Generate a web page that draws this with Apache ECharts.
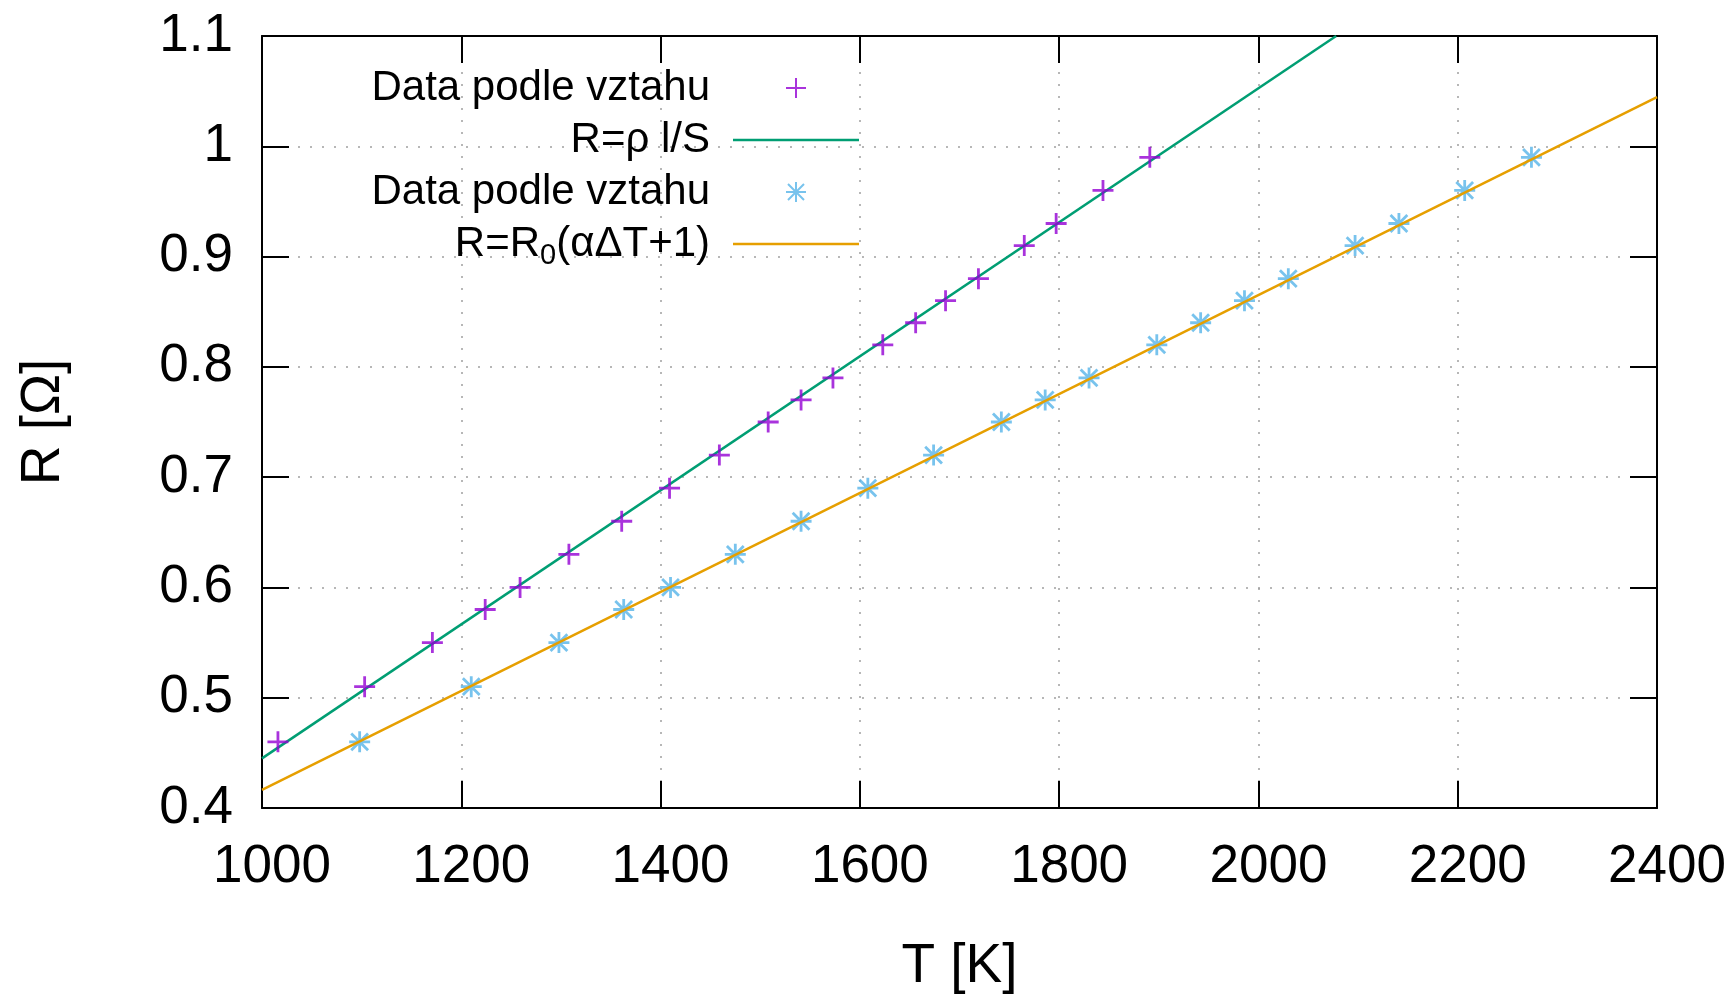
<!DOCTYPE html>
<html>
<head>
<meta charset="utf-8">
<script src="https://cdn.jsdelivr.net/npm/echarts@6/dist/echarts.min.js"></script>
<style>
  html, body { margin: 0; padding: 0; background: #fff; }
  #chart { width: 1729px; height: 1000px; }
</style>
</head>
<body>
<div id="chart"></div>
<script>
// data podle vztahu R = rho l / S
var rhoT = [1016, 1103, 1171, 1224, 1259, 1308, 1361, 1409, 1459, 1508, 1541, 1573, 1623, 1656, 1686, 1719, 1765, 1797, 1844, 1891];
var rhoR = [0.46, 0.51, 0.55, 0.58, 0.60, 0.63, 0.66, 0.69, 0.72, 0.75, 0.77, 0.79, 0.82, 0.84, 0.86, 0.88, 0.91, 0.93, 0.96, 0.99];
// data podle vztahu R = R0(a dT + 1)
var r0T = [1098, 1210, 1298, 1363, 1410, 1475, 1541, 1608, 1674, 1742, 1786, 1830, 1898, 1942, 1986, 2030, 2097, 2141, 2207, 2274];
var r0R = [0.46, 0.51, 0.55, 0.58, 0.60, 0.63, 0.66, 0.69, 0.72, 0.75, 0.77, 0.79, 0.82, 0.84, 0.86, 0.88, 0.91, 0.93, 0.96, 0.99];
// fitted lines (end points)
var rhoFitT = [1000, 2078];
var rhoFitR = [0.445, 1.1];
var r0FitT = [1000, 2400];
var r0FitR = [0.4165, 1.0446];

var legendLabels = {
  data1: 'Data podle vztahu',
  fit1: 'R=ρ l/S',
  data2: 'Data podle vztahu',
  fit2: '{a|R=R}{s|0}{a|(αΔT+1)}'
};

function pairs(xs, ys) {
  var out = [];
  for (var i = 0; i < xs.length; i++) {
    out.push([xs[i], ys[i]]);
  }
  return out;
}

var font = "'Liberation Sans', Arial, sans-serif";
var plusPath = 'path://M0,-10L0,10M-10,0L10,0';
var starPath = 'path://M0,-10L0,10M-10,0L10,0M-8,-8L8,8M-8,8L8,-8';
// flat bar used as legend sample for the fitted lines
var lineIcon = 'path://M0,0L126,0L126,2.6L0,2.6Z';

var chart = echarts.init(document.getElementById('chart'), null, { renderer: 'canvas' });

var frameAxis = {
  axisLine: { show: true, lineStyle: { color: '#000', width: 2 } },
  axisTick: { show: true, inside: true, length: 27, lineStyle: { color: '#000', width: 2 } },
  axisLabel: { show: false },
  splitLine: { show: false }
};

chart.setOption({
  animation: false,
  backgroundColor: '#fff',
  textStyle: { fontFamily: font },
  grid: { left: 262, top: 36, width: 1395, height: 772, containLabel: false },
  legend: {
    data: [
      { name: 'data1' },
      { name: 'fit1', icon: lineIcon, itemStyle: { color: '#009e73', borderWidth: 0 } },
      { name: 'data2' },
      { name: 'fit2', icon: lineIcon, itemStyle: { color: '#e69f00', borderWidth: 0 } }
    ],
    orient: 'vertical',
    align: 'right',
    right: 870,
    top: 62,
    padding: 0,
    itemGap: 0,
    itemWidth: 126,
    itemHeight: 20,
    selectedMode: false,
    formatter: function (name) {
      return legendLabels[name];
    },
    textStyle: {
      fontFamily: font,
      fontSize: 42,
      color: '#000',
      lineHeight: 52,
      padding: [0, 18, 0, 0],
      rich: {
        a: { fontFamily: font, fontSize: 42, color: '#000', lineHeight: 52 },
        s: { fontFamily: font, fontSize: 29, color: '#000', lineHeight: 26, verticalAlign: 'bottom' }
      }
    }
  },
  xAxis: [
    {
      type: 'value',
      position: 'bottom',
      min: 1000,
      max: 2400,
      interval: 200,
      name: 'T [K]',
      nameLocation: 'middle',
      nameGap: 131,
      nameTextStyle: { fontFamily: font, fontSize: 55, color: '#000' },
      axisLine: { show: true, lineStyle: { color: '#000', width: 2 } },
      axisTick: { show: true, inside: true, length: 27, lineStyle: { color: '#000', width: 2 } },
      axisLabel: {
        fontFamily: font, fontSize: 53, color: '#000', margin: 33, padding: [0, 0, 0, 20],
        formatter: function (v) { return String(v); }
      },
      splitLine: { show: true, lineStyle: { color: '#a0a0a0', width: 1.5, type: [2, 10] } }
    },
    Object.assign({ type: 'value', position: 'top', min: 1000, max: 2400, interval: 200 }, frameAxis)
  ],
  yAxis: [
    {
      type: 'value',
      position: 'left',
      min: 0.4,
      max: 1.1,
      interval: 0.1,
      name: 'R [Ω]',
      nameLocation: 'middle',
      nameGap: 191,
      nameTextStyle: { fontFamily: font, fontSize: 55, color: '#000' },
      axisLine: { show: true, lineStyle: { color: '#000', width: 2 } },
      axisTick: { show: true, inside: true, length: 27, lineStyle: { color: '#000', width: 2 } },
      axisLabel: { fontFamily: font, fontSize: 53, color: '#000', margin: 29, padding: [0, 0, 8, 0] },
      splitLine: { show: true, lineStyle: { color: '#a0a0a0', width: 1.5, type: [2, 10] } }
    },
    Object.assign({ type: 'value', position: 'right', min: 0.4, max: 1.1, interval: 0.1 }, frameAxis)
  ],
  series: [
    {
      name: 'data1',
      type: 'scatter',
      symbol: plusPath,
      symbolSize: 21,
      symbolKeepAspect: true,
      itemStyle: { color: '#9400d3', borderColor: '#9400d3', borderWidth: 2.8 },
      data: pairs(rhoT, rhoR),
      z: 5
    },
    {
      name: 'fit1',
      type: 'line',
      symbol: 'none',
      lineStyle: { color: '#009e73', width: 2.5 },
      itemStyle: { color: '#009e73' },
      data: pairs(rhoFitT, rhoFitR),
      z: 3
    },
    {
      name: 'data2',
      type: 'scatter',
      symbol: starPath,
      symbolSize: 21,
      symbolKeepAspect: true,
      itemStyle: { color: '#56b4e9', borderColor: '#56b4e9', borderWidth: 2.8 },
      data: pairs(r0T, r0R),
      z: 4
    },
    {
      name: 'fit2',
      type: 'line',
      symbol: 'none',
      lineStyle: { color: '#e69f00', width: 2.5 },
      itemStyle: { color: '#e69f00' },
      data: pairs(r0FitT, r0FitR),
      z: 6
    }
  ]
});
</script>
</body>
</html>
